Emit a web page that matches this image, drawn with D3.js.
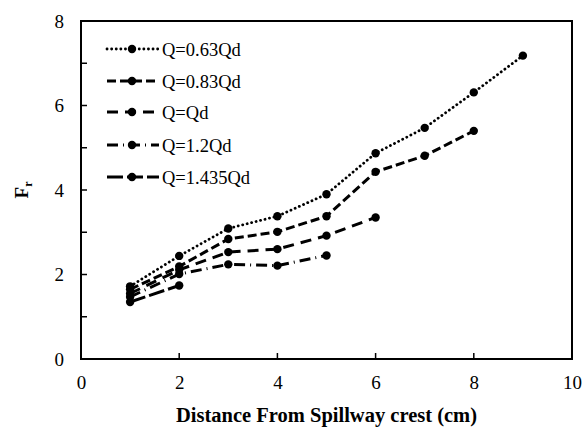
<!DOCTYPE html>
<html><head><meta charset="utf-8">
<script src="https://cdn.jsdelivr.net/npm/d3@7"></script>
<style>body{margin:0;background:#fff;} svg{display:block;} text{font-family:"Liberation Serif","Times New Roman",Tinos,"DejaVu Serif",serif;}</style>
</head><body>
<script>
const seriesNames = ["Q=0.63Qd", "Q=0.83Qd", "Q=Qd", "Q=1.2Qd", "Q=1.435Qd"];
const xDist = [1, 2, 3, 4, 5, 6, 7, 8, 9];
const fr063 = [1.72, 2.44, 3.09, 3.38, 3.90, 4.87, 5.47, 6.31, 7.18];
const fr083 = [1.65, 2.19, 2.84, 3.01, 3.38, 4.43, 4.81, 5.40];
const frQd = [1.55, 2.11, 2.53, 2.60, 2.92, 3.35];
const fr12 = [1.47, 2.01, 2.24, 2.21, 2.45];
const fr1435 = [1.35, 1.74];
const xTicks = [0, 2, 4, 6, 8, 10];
const yTicks = [0, 2, 4, 6, 8];
const yMinor = [1, 3, 5, 7];

const allSeries = [fr063, fr083, frQd, fr12, fr1435];
const dashes = ["0.1 4.5", "9 4", "11 7", "11 5 1 5", "16 4"];

const W = 585, H = 427;
const m = {l: 81, t: 21, r: 13, b: 68};
const svg = d3.select("body").append("svg").attr("width", W).attr("height", H);
const x = d3.scaleLinear().domain([0, 10]).range([m.l, W - m.r]);
const y = d3.scaleLinear().domain([0, 8]).range([H - m.b, m.t]);

// frame
svg.append("rect").attr("x", x(0)).attr("y", y(8)).attr("width", x(10) - x(0)).attr("height", y(0) - y(8))
  .attr("fill", "none").attr("stroke", "#000").attr("stroke-width", 2);

// x axis
const xa = svg.append("g").attr("transform", `translate(0,${y(0)})`)
  .call(d3.axisBottom(x).tickValues(xTicks).tickSize(0).tickPadding(17).tickFormat(d3.format("d")));
xa.select(".domain").remove();
xa.attr("font-family", null);
xa.selectAll("text").attr("font-size", 19).attr("fill", "#000");
svg.append("g").selectAll("line").data([2, 4, 6, 8]).join("line")
  .attr("x1", d => x(d)).attr("x2", d => x(d)).attr("y1", y(0)).attr("y2", y(0) - 6)
  .attr("stroke", "#000").attr("stroke-width", 1.5);

// y axis
const ya = svg.append("g").attr("transform", `translate(${x(0)},0)`)
  .call(d3.axisLeft(y).tickValues(yTicks).tickSize(0).tickPadding(17).tickFormat(d3.format("d")));
ya.select(".domain").remove();
ya.attr("font-family", null);
ya.selectAll("text").attr("font-size", 19).attr("fill", "#000");
svg.append("g").selectAll("line").data(yTicks.concat(yMinor).filter(d => d > 0 && d < 8)).join("line")
  .attr("x1", x(0)).attr("x2", x(0) + 6).attr("y1", d => y(d)).attr("y2", d => y(d))
  .attr("stroke", "#000").attr("stroke-width", 1.5);

// axis titles
svg.append("text").attr("x", (x(0) + x(10)) / 2).attr("y", 422).attr("text-anchor", "middle")
  .attr("font-weight", "bold").attr("font-size", 20.5)
  .text("Distance From Spillway crest (cm)");
const yl = svg.append("text").attr("transform", `translate(28,${(y(0) + y(8)) / 2}) rotate(-90)`)
  .attr("text-anchor", "middle").attr("font-weight", "bold").attr("font-size", 19);
yl.append("tspan").text("F");
yl.append("tspan").attr("font-size", 12).attr("dy", 4).text("r");

// series
const line = d3.line().x(d => x(d[0])).y(d => y(d[1]));
allSeries.forEach((vals, i) => {
  const pts = vals.map((v, j) => [xDist[j], v]);
  svg.append("path").datum(pts).attr("d", line).attr("fill", "none").attr("stroke", "#000")
    .attr("stroke-width", i === 0 ? 2.8 : 3).attr("stroke-linecap", i === 0 ? "round" : "butt")
    .attr("stroke-dasharray", dashes[i]);
  svg.append("g").selectAll("circle").data(pts).join("circle")
    .attr("cx", d => x(d[0])).attr("cy", d => y(d[1])).attr("r", 4.2).attr("fill", "#000");
});

// legend
const lg = svg.append("g");
const rowY = [49, 81, 112, 145, 177];
seriesNames.forEach((name, i) => {
  const g = lg.append("g").attr("transform", `translate(0,${rowY[i]})`);
  g.append("line").attr("x1", 107).attr("x2", 159).attr("y1", 0).attr("y2", 0)
    .attr("stroke", "#000").attr("stroke-width", i === 0 ? 2.8 : 3)
    .attr("stroke-linecap", i === 0 ? "round" : "butt").attr("stroke-dasharray", dashes[i]);
  g.append("circle").attr("cx", 132).attr("cy", 0).attr("r", 4.2).attr("fill", "#000");
  g.append("text").attr("x", 162).attr("y", 6.5).attr("font-size", 18.5).text(name);
});
</script>
</body></html>
